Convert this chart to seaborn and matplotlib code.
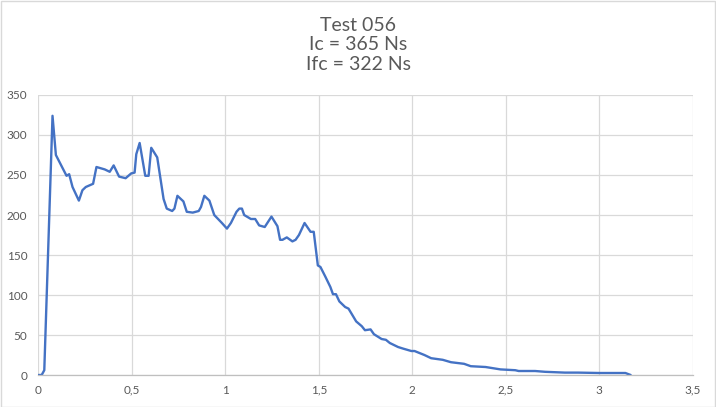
import matplotlib
matplotlib.use('Agg')
import matplotlib.pyplot as plt
from matplotlib.patches import Rectangle
import seaborn as sns
import pandas as pd

# Configuration
TITLE_LINES = ['Test 056', 'Ic = 365 Ns', 'Ifc = 322 Ns']
LINE_COLOR = '#4472C4'
TEXT_COLOR = '#595959'
GRID_COLOR = '#D9D9D9'

# Data (time, force)
time_s = [0, 0.018, 0.032, 0.076, 0.094, 0.151, 0.165, 0.183, 0.217, 0.236,
          0.254, 0.293, 0.311, 0.355, 0.382, 0.403, 0.432, 0.467, 0.497, 0.515,
          0.524, 0.542, 0.572, 0.590, 0.604, 0.636, 0.670, 0.687, 0.716, 0.728,
          0.744, 0.776, 0.794, 0.826, 0.858, 0.870, 0.888, 0.915, 0.941, 0.982,
          1.009, 1.030, 1.060, 1.075, 1.089, 1.101, 1.137, 1.160, 1.181, 1.211,
          1.247, 1.279, 1.293, 1.306, 1.329, 1.359, 1.376, 1.394, 1.424, 1.456,
          1.473, 1.495, 1.509, 1.535, 1.562, 1.576, 1.592, 1.610, 1.641, 1.659,
          1.677, 1.700, 1.730, 1.747, 1.777, 1.795, 1.836, 1.859, 1.880, 1.924,
          1.951, 1.995, 2.012, 2.065, 2.101, 2.163, 2.207, 2.277, 2.313, 2.392,
          2.472, 2.551, 2.569, 2.657, 2.710, 2.816, 2.843, 2.887, 3.0, 3.14,
          3.168]
force = [0, 0, 6, 324, 275, 249, 251, 235, 218, 231,
         235, 239, 260, 257, 254, 262, 248, 246, 252, 253,
         276, 290, 249, 249, 284, 272, 220, 208, 205, 208,
         224, 217, 204, 203, 205, 210, 224, 218, 200, 190,
         183, 190, 204, 208, 208, 200, 195, 195, 187, 185,
         198, 186, 169, 169, 172, 167, 169, 175, 190, 179,
         179, 137, 135, 123, 110, 101, 101, 92, 85, 83,
         76, 67, 61, 56, 57, 51, 45, 44, 40, 35,
         33, 30, 30, 25, 21, 19, 16, 14, 11, 10,
         7, 6, 5, 5, 4, 3, 3, 3, 2.5, 2.5,
         0]

xticks = [0, 0.5, 1, 1.5, 2, 2.5, 3, 3.5]
xtick_labels = ['0', '0,5', '1', '1,5', '2', '2,5', '3', '3,5']
yticks = [0, 50, 100, 150, 200, 250, 300, 350]


def main():
    sns.set_style('white')
    plt.rcParams['font.family'] = ['Lato', 'DejaVu Sans']

    df = pd.DataFrame({'t': time_s, 'f': force})

    fig = plt.figure(figsize=(7.16, 4.07), dpi=100)
    ax = fig.add_axes([0.0535, 0.0786, 0.914, 0.688])

    sns.lineplot(data=df, x='t', y='f', ax=ax, sort=False, estimator=None,
                 color=LINE_COLOR, linewidth=1.7, solid_joinstyle='round',
                 solid_capstyle='round')

    ax.set_xlim(0, 3.5)
    ax.set_ylim(0, 350)
    ax.set_xticks(xticks)
    ax.set_xticklabels(xtick_labels)
    ax.set_yticks(yticks)
    ax.set_xlabel('')
    ax.set_ylabel('')

    # Excel-like gridlines and axis
    ax.grid(True, color=GRID_COLOR, linewidth=0.9)
    ax.set_axisbelow(True)
    for side in ['top', 'right', 'left']:
        ax.spines[side].set_visible(False)
    ax.spines['bottom'].set_color('#BFBFBF')
    ax.spines['bottom'].set_linewidth(0.9)
    ax.tick_params(axis='both', length=0, labelsize=8.5, labelcolor=TEXT_COLOR)
    ax.tick_params(axis='x', pad=7)
    ax.tick_params(axis='y', pad=8)

    fig.text(0.5, 1 - 45 / 407, '\n'.join(TITLE_LINES), ha='center', va='center',
             fontsize=14, color=TEXT_COLOR, linespacing=1.15)

    # Chart border
    fig.patches.append(Rectangle((0.001, 0.001), 0.997, 0.997, transform=fig.transFigure,
                                 fill=False, edgecolor='#D9D9D9', linewidth=1))

    fig.savefig('out.png', dpi=100)
    plt.close(fig)


if __name__ == "__main__":
    main()
